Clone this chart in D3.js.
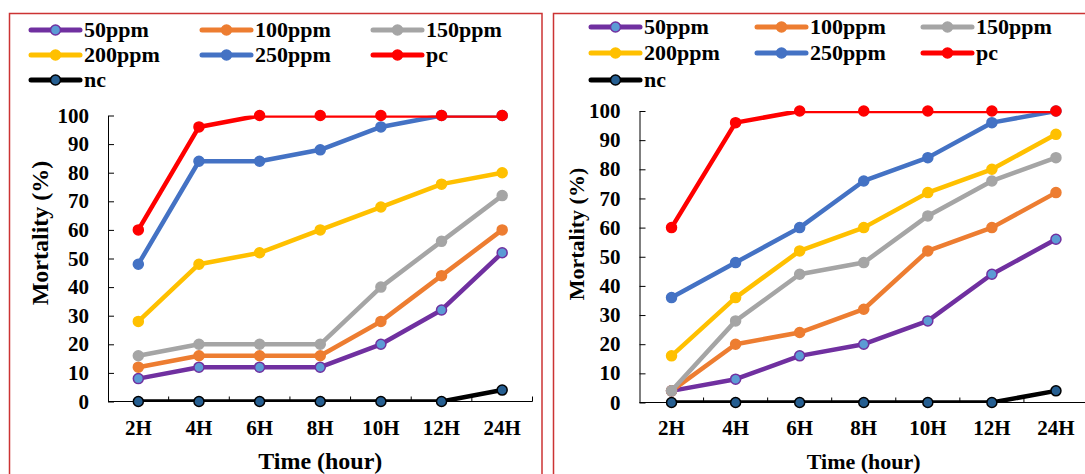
<!DOCTYPE html>
<html lang="en">
<head>
    <meta charset="UTF-8">
    <title>Mortality over time</title>
    <script src="https://d3js.org/d3.v7.min.js"></script>
    <style>
        body { margin: 0; background: #fff; }
        svg text { font-family: "Liberation Serif", "Times New Roman", "DejaVu Serif", serif; font-weight: bold; fill: #000; }
    </style>
</head>
<body>
    <svg id="chart" width="1085" height="474"></svg>
    <script>
        // categories and series
        const hours = ["2H", "4H", "6H", "8H", "10H", "12H", "24H"];
        const seriesNames = ["50ppm", "100ppm", "150ppm", "200ppm", "250ppm", "pc", "nc"];
        const yTicks = [0, 10, 20, 30, 40, 50, 60, 70, 80, 90, 100];

        // left chart values, one row per series (same order as seriesNames)
        const leftValues = [
            [8, 12, 12, 12, 20, 32, 52],
            [12, 16, 16, 16, 28, 44, 60],
            [16, 20, 20, 20, 40, 56, 72],
            [28, 48, 52, 60, 68, 76, 80],
            [48, 84, 84, 88, 96, 100, 100],
            [60, 96, 100, 100, 100, 100, 100],
            [0, 0, 0, 0, 0, 0, 4]
        ];

        // right chart values
        const rightValues = [
            [4, 8, 16, 20, 28, 44, 56],
            [4, 20, 24, 32, 52, 60, 72],
            [4, 28, 44, 48, 64, 76, 84],
            [16, 36, 52, 60, 72, 80, 92],
            [36, 48, 60, 76, 84, 96, 100],
            [60, 96, 100, 100, 100, 100, 100],
            [0, 0, 0, 0, 0, 0, 4]
        ];

        // excel-like colours
        const lineColors = ["#7030A0", "#ED7D31", "#A5A5A5", "#FFC000", "#4472C4", "#FF0000", "#000000"];
        const markerFill = ["#5B9BD5", "#ED7D31", "#A5A5A5", "#FFC000", "#4472C4", "#FF0000", "#255E91"];
        const markerStroke = ["#7030A0", "#ED7D31", "#A5A5A5", "#FFC000", "#4472C4", "#FF0000", "#000000"];

        const svg = d3.select("#chart");

        const panels = [
            {
                id: "a", values: leftValues,
                frame: { x: 9.5, y: 13.5, w: 532.5, h: 520 },
                plot: { left: 108, right: 532.5, top: 115.5, bottom: 401.5 },
                legend: { x: 31, dx: 171, rows: [30, 55, 80] },
                yTitle: { x: 48, y: 233, size: 24 },
                xTitle: { y: 469, size: 24 }
            },
            {
                id: "b", values: rightValues,
                frame: { x: 553.5, y: 13.5, w: 600, h: 520 },
                plot: { left: 639.5, right: 1088, top: 111, bottom: 402.5 },
                legend: { x: 591, dx: 166, rows: [27, 53, 80] },
                yTitle: { x: 584, y: 234, size: 22 },
                xTitle: { y: 469, size: 22 }
            }
        ];

        panels.forEach(p => {
            // border box
            svg.append("rect")
                .attr("x", p.frame.x).attr("y", p.frame.y)
                .attr("width", p.frame.w).attr("height", p.frame.h)
                .attr("fill", "none").attr("stroke", "#cc3333").attr("stroke-width", 1.5);

            const x = d3.scaleBand().domain(hours).range([p.plot.left, p.plot.right]);
            const y = d3.scaleLinear().domain([0, 100]).range([p.plot.bottom, p.plot.top]);
            const cx = d => x(d) + x.bandwidth() / 2;

            // clip lines to plot area like excel does
            svg.append("clipPath").attr("id", "clip-" + p.id)
                .append("rect")
                .attr("x", p.plot.left).attr("y", p.plot.top)
                .attr("width", p.plot.right - p.plot.left)
                .attr("height", p.plot.bottom - p.plot.top);

            // y axis: ticks point inward
            const yAxis = svg.append("g")
                .attr("transform", `translate(${p.plot.left},0)`)
                .call(d3.axisRight(y).tickValues(yTicks).tickSize(6).tickSizeOuter(0).tickFormat(""));
            yAxis.select(".domain").attr("stroke", "#000");
            yAxis.selectAll(".tick line").attr("stroke", "#000");

            svg.append("g").selectAll("text")
                .data(yTicks)
                .enter().append("text")
                .attr("x", p.plot.left - 19)
                .attr("y", d => y(d))
                .attr("dy", "0.34em")
                .attr("text-anchor", "end")
                .attr("font-size", 21)
                .text(d => d);

            // x axis: tick marks on category boundaries, pointing up
            const bounds = hours.map(h => x(h)).concat([p.plot.right]).slice(1);
            svg.append("line")
                .attr("x1", p.plot.left).attr("x2", p.plot.right)
                .attr("y1", p.plot.bottom).attr("y2", p.plot.bottom)
                .attr("stroke", "#000");
            svg.append("g").selectAll("line")
                .data(bounds)
                .enter().append("line")
                .attr("x1", d => d).attr("x2", d => d)
                .attr("y1", p.plot.bottom).attr("y2", p.plot.bottom - 5)
                .attr("stroke", "#000");

            svg.append("g").selectAll("text")
                .data(hours)
                .enter().append("text")
                .attr("x", d => cx(d))
                .attr("y", 435)
                .attr("text-anchor", "middle")
                .attr("font-size", 21)
                .text(d => d);

            // axis titles
            svg.append("text")
                .attr("transform", `translate(${p.yTitle.x},${p.yTitle.y}) rotate(-90)`)
                .attr("text-anchor", "middle")
                .attr("font-size", p.yTitle.size)
                .text("Mortality (%)");
            svg.append("text")
                .attr("x", (p.plot.left + p.plot.right) / 2)
                .attr("y", p.xTitle.y)
                .attr("text-anchor", "middle")
                .attr("font-size", p.xTitle.size)
                .text("Time (hour)");

            // series
            const line = d3.line().x((d, i) => cx(hours[i])).y(d => y(d));
            seriesNames.forEach((name, s) => {
                const vals = p.values[s];
                svg.append("path")
                    .datum(vals)
                    .attr("clip-path", `url(#clip-${p.id})`)
                    .attr("d", line)
                    .attr("fill", "none")
                    .attr("stroke", lineColors[s])
                    .attr("stroke-width", 4.5)
                    .attr("stroke-linejoin", "round")
                    .attr("stroke-linecap", "round");
                svg.append("g").selectAll("circle")
                    .data(vals)
                    .enter().append("circle")
                    .attr("cx", (d, i) => cx(hours[i]))
                    .attr("cy", d => y(d))
                    .attr("r", 5)
                    .attr("fill", markerFill[s])
                    .attr("stroke", markerStroke[s])
                    .attr("stroke-width", 1.5);
            });

            // legend: 3 columns
            seriesNames.forEach((name, s) => {
                const lx = p.legend.x + (s % 3) * p.legend.dx;
                const ly = p.legend.rows[Math.floor(s / 3)];
                const g = svg.append("g");
                g.append("line")
                    .attr("x1", lx).attr("x2", lx + 49)
                    .attr("y1", ly).attr("y2", ly)
                    .attr("stroke", lineColors[s])
                    .attr("stroke-width", 5)
                    .attr("stroke-linecap", "round");
                g.append("circle")
                    .attr("cx", lx + 24.5).attr("cy", ly).attr("r", 5)
                    .attr("fill", markerFill[s])
                    .attr("stroke", markerStroke[s])
                    .attr("stroke-width", 1.5);
                g.append("text")
                    .attr("x", lx + 53).attr("y", ly)
                    .attr("dy", "0.34em")
                    .attr("font-size", 22)
                    .text(name);
            });
        });
    </script>
</body>
</html>
